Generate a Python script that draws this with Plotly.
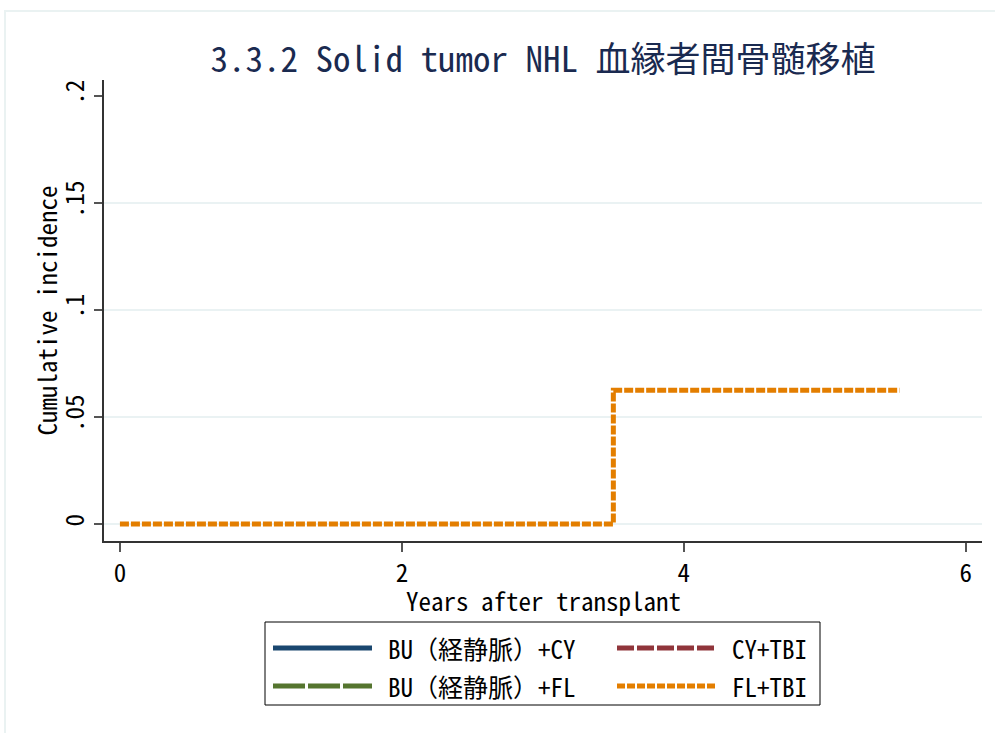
import plotly.graph_objects as go

# Cumulative incidence of solid tumors by conditioning regimen
series_names = ["BU（経静脈）+CY", "BU（経静脈）+FL", "CY+TBI", "FL+TBI"]
series_colors = ["#1a476f", "#55752f", "#90353b", "#e37e00"]
series_dash = ["solid", "32px,3px", "17px,3px", "8px,2px"]

bucy_years = []
bucy_ci = []
bufl_years = []
bufl_ci = []
cytbi_years = []
cytbi_ci = []
fltbi_years = [0, 3.5, 5.53]
fltbi_ci = [0, 0.0625, 0.0625]

x_ticks = [0, 2, 4, 6]
y_ticks = [0, 0.05, 0.1, 0.15, 0.2]
y_tick_text = ["0", ".05", ".1", ".15", ".2"]

FONT = "Noto Sans Mono CJK JP, Noto Sans CJK JP, DejaVu Sans Mono, monospace"

W, H = 995, 733
L, R, T, B = 104, 982, 80, 541


def px(xp):
    return (xp - L) / (R - L)


def py(yp):
    return (B - yp) / (B - T)


fig = go.Figure()

# invisible trace carrying the grid lines (no line at the top tick)
fig.add_trace(go.Scatter(x=[None], y=[None], yaxis="y2", showlegend=False))

all_x = [bucy_years, bufl_years, cytbi_years, fltbi_years]
all_y = [bucy_ci, bufl_ci, cytbi_ci, fltbi_ci]
plot_dash = ["solid", "32px,3px", "17px,3px", "9px,2px"]
for name, xs, ys, col, dash in zip(series_names, all_x, all_y, series_colors, plot_dash):
    fig.add_trace(go.Scatter(
        x=xs, y=ys, mode="lines", name=name, line_shape="hv",
        line=dict(color=col, width=5, dash=dash), showlegend=False,
    ))

xr = [-0.113, 6.115]
yr = [-0.0079, 0.2075]

fig.update_layout(
    width=W, height=H,
    margin=dict(l=L, r=W - R, t=T, b=H - B),
    paper_bgcolor="white", plot_bgcolor="white",
    font=dict(family=FONT, color="black"),
    title=dict(text="3.3.2 Solid tumor NHL 血縁者間骨髄移植",
               x=0.5, xref="paper", xanchor="center",
               y=1 - 60 / H, yref="container", yanchor="middle",
               font=dict(size=35, color="#1a2a50", family=FONT)),
    xaxis=dict(range=xr, tickvals=x_ticks, showgrid=False, zeroline=False,
               showline=True, linecolor="#333333", linewidth=1.5,
               ticks="outside", ticklen=9, tickwidth=1.5, tickcolor="#555555",
               tickfont=dict(size=25)),
    yaxis=dict(range=yr, tickvals=y_ticks, ticktext=y_tick_text, showgrid=False,
               zeroline=False, showline=True, linecolor="#333333", linewidth=1.5,
               ticks="outside", ticklen=8, tickwidth=1.5, tickcolor="#555555",
               tickangle=-90, tickfont=dict(size=25)),
    yaxis2=dict(range=yr, overlaying="y", tickvals=[0, 0.05, 0.1, 0.15],
                showgrid=True, gridcolor="#eaf2f3", gridwidth=2,
                showticklabels=False, zeroline=False, showline=False, ticks=""),
)

shapes = []
# outer frame of the graph region
shapes.append(dict(type="rect", xref="paper", yref="paper",
                   x0=px(5), x1=px(1000), y0=py(740), y1=py(11),
                   line=dict(color="#eaf2f2", width=2), fillcolor="rgba(0,0,0,0)", layer="below"))
# legend box
shapes.append(dict(type="rect", xref="paper", yref="paper",
                   x0=px(265), x1=px(820), y0=py(705), y1=py(622),
                   line=dict(color="black", width=1), fillcolor="white"))

annotations = [
    dict(text="Years after transplant", xref="paper", yref="paper",
         x=0.5, y=py(600), xanchor="center", yanchor="middle", showarrow=False,
         font=dict(size=25, color="black", family=FONT)),
    dict(text="Cumulative incidence", xref="paper", yref="paper",
         x=px(45), y=0.5, xanchor="center", yanchor="middle", showarrow=False,
         textangle=-90, font=dict(size=25, color="black", family=FONT)),
]
legend_pos = [(273, 372, 386, 648), (273, 372, 386, 686), (617, 717, 730, 648), (617, 717, 730, 686)]
for name, col, dash, (lx0, lx1, tx, ly) in zip(series_names, series_colors, series_dash, legend_pos):
    shapes.append(dict(type="line", xref="paper", yref="paper",
                       x0=px(lx0), x1=px(lx1), y0=py(ly), y1=py(ly),
                       line=dict(color=col, width=5, dash=dash)))
    annotations.append(dict(text=name, xref="paper", yref="paper", x=px(tx), y=py(ly),
                            xanchor="left", yanchor="middle", showarrow=False,
                            font=dict(size=25, color="black", family=FONT)))

fig.update_layout(shapes=shapes, annotations=annotations)

fig.write_html("out.html")
